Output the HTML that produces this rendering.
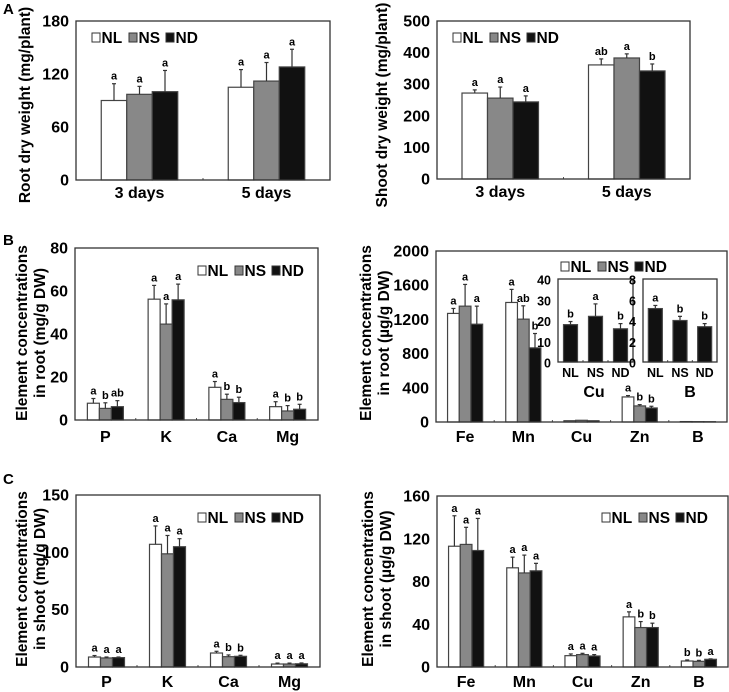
<!DOCTYPE html>
<html><head><meta charset="utf-8"><style>
html,body{margin:0;padding:0;background:#fff;}
svg{display:block;font-family:"Liberation Sans",Arial,sans-serif;font-weight:bold;}
</style></head><body>
<svg id="fig" width="729" height="692" viewBox="0 0 729 692">
<text x="3" y="14" font-size="15">A</text>
<text x="3" y="245" font-size="15">B</text>
<text x="3" y="484" font-size="15">C</text>
</svg>
<script>
// ---- Data ----
const seriesNames = ["NL","NS","ND"];
const fills = ["#ffffff","#888888","#111111"];

// A left: root dry weight
const aCats = ["3 days","5 days"];
const aRootTicks = [0,60,120,180];
const aRootNL = [90,105], aRootNS = [97,112], aRootND = [100,128];
const aRootErrNL = [19,20], aRootErrNS = [9,21], aRootErrND = [24,20];
const aRootLet = [["a","a","a"],["a","a","a"]];

// A right: shoot dry weight
const aShootTicks = [0,100,200,300,400,500];
const aShootNL = [272,361], aShootNS = [256,383], aShootND = [244,342];
const aShootErrNL = [10,19], aShootErrNS = [35,13], aShootErrND = [19,22];
const aShootLet = [["a","a","a"],["ab","a","b"]];

// B left: macro in root
const macroCats = ["P","K","Ca","Mg"];
const bMacTicks = [0,20,40,60,80];
const bMacNL = [7.8,56.2,15.2,6.2], bMacNS = [5.4,44.6,9.6,4.2], bMacND = [6.2,55.9,8.1,5.0];
const bMacErrNL = [2.2,6.4,2.7,2.3], bMacErrNS = [2.6,9.4,2.4,2.5], bMacErrND = [2.8,7.3,2.5,2.3];
const bMacLet = [["a","b","ab"],["a","a","a"],["a","b","b"],["a","b","b"]];

// B right: micro in root
const microCats = ["Fe","Mn","Cu","Zn","B"];
const bMicTicks = [0,400,800,1200,1600,2000];
const bMicNL = [1270,1398,15,293,5], bMicNS = [1355,1203,20,188,4], bMicND = [1144,867,15,164,3.5];
const bMicErrNL = [58,153,0,16,0], bMicErrNS = [254,156,0,15,0], bMicErrND = [211,168,0,20,0];
const bMicLet = [["a","a","a"],["a","ab","b"],["","",""],["a","b","b"],["","",""]];

// B insets
const insetCats = ["NL","NS","ND"];
const cuTicks = [0,10,20,30,40];
const cuVals = [18,22,16], cuErr = [1.5,6,2.5], cuLet = ["b","a","b"];
const bTicks = [0,2,4,6,8];
const bVals = [5.15,4.0,3.4], bErr = [0.3,0.4,0.3], bLet = ["a","b","b"];

// C left: macro in shoot
const cMacTicks = [0,50,100,150];
const cMacNL = [8.7,107,12.2,2.6], cMacNS = [7.9,98.7,9,2.6], cMacND = [8.2,104.9,9.3,2.8];
const cMacErrNL = [1.3,16,1.5,0.8], cMacErrNS = [0.8,16,1.5,0.8], cMacErrND = [0.5,7,0.9,0.7];
const cMacLet = [["a","a","a"],["a","a","a"],["a","b","b"],["a","a","a"]];

// C right: micro in shoot
const cMicTicks = [0,40,80,120,160];
const cMicNL = [113,92.8,10.6,46.9,5.6], cMicNS = [114.7,88,11.6,36.9,5.3], cMicND = [109,90,10.3,36.9,7.2];
const cMicErrNL = [28.5,10,1.6,4.7,1.0], cMicErrNS = [16,16.7,1.2,5.6,0.9], cMicErrND = [30,7,1.3,4.1,0.4];
const cMicLet = [["a","a","a"],["a","a","a"],["a","a","a"],["a","b","b"],["b","b","a"]];

// ---- Drawing ----
const NS = "http://www.w3.org/2000/svg";
const svg = document.getElementById("fig");
function mk(tag, attrs, parent){
  const e = document.createElementNS(NS, tag);
  for (const k in attrs) e.setAttribute(k, attrs[k]);
  (parent||svg).appendChild(e);
  return e;
}
function txt(x,y,s,size,anchor,parent){
  const t = mk("text",{x:x,y:y,"font-size":size,"text-anchor":anchor||"middle"},parent);
  t.textContent = s;
  return t;
}
function legend(x,y,name){
  const g = mk("g",{});
  
  
  for (let k=0;k<3;k++){
    const sx = x + k*37;
    const r = mk("rect",{x:sx,y:y-4,width:8,height:9,fill:fills[k],stroke:"#333","stroke-width":1},g);
    
    
    const t = txt(sx+9.5,y+6,seriesNames[k],15.5,"start",g);
    
    
  }
}
function yTitle(cx,cy,lines,name){
  const g = mk("g",{});
  
  
  lines.forEach((l,i)=>{
    const x = cx + i*18;
    txt(x,cy,l,15.5,"middle",g).setAttribute("transform","rotate(-90 "+x+" "+(cy-5)+")");
  });
}
function chart(c){
  const g = mk("g",{});
  
  
  const max = c.ticks[c.ticks.length-1];
  const Y = v => c.y1 - v*(c.y1-c.y0)/max;
  const slot = (c.x1-c.x0)/c.cats.length;
  const X = i => c.x0 + slot*(i+0.5);
  c.ticks.forEach(t=>{
    const lab = txt(c.x0-7, Y(t)+5.5, String(t), c.tickSize||16, "end", g);
    
    
  });
  for (let i=1;i<c.cats.length;i++){
    const xx = c.x0+slot*i;
    mk("line",{x1:xx,x2:xx,y1:c.y1,y2:c.y1-2,stroke:"#555","stroke-width":1},g);
  }
  const ns = c.series.length;
  c.cats.forEach((cat,i)=>{
    const lab = txt(X(i), c.y1+(c.catDy||18), cat, c.catSize||16, "middle", g);
    
    
    for (let s=0;s<ns;s++){
      const v = c.series[s][i], e = c.errs[s][i];
      const bx = X(i) + (s - (ns-1)/2)*c.bw - c.bw/2;
      const fill = c.fillsOverride ? c.fillsOverride[s] : fills[s];
      const r = mk("rect",{x:bx,y:Y(v),width:c.bw,height:c.y1-Y(v),fill:fill,stroke:"#444","stroke-width":1.2},g);
      
      
      const cx = bx + c.bw/2;
      if (e>0){
        mk("line",{x1:cx,x2:cx,y1:Y(v),y2:Y(v+e),stroke:"#333","stroke-width":1.2},g);
        mk("line",{x1:cx-2,x2:cx+2,y1:Y(v+e),y2:Y(v+e),stroke:"#333","stroke-width":1.2},g);
      }
      const L = c.letters[i][s];
      if (L){
        const lt = txt(cx, Y(v+e)-4, L, c.letSize||11, "middle", g);
        
        
      }
    }
  });
  mk("rect",{x:c.x0,y:c.y0,width:c.x1-c.x0,height:c.y1-c.y0,fill:"none",stroke:"#333","stroke-width":1.3},g);
}

chart({name:"root-dry-weight-chart",x0:76,x1:330,y0:21,y1:180,ticks:aRootTicks,cats:aCats,
  series:[aRootNL,aRootNS,aRootND],errs:[aRootErrNL,aRootErrNS,aRootErrND],letters:aRootLet,bw:25.5,catDy:18});
chart({name:"shoot-dry-weight-chart",x0:437,x1:690,y0:21,y1:179,ticks:aShootTicks,cats:aCats,
  series:[aShootNL,aShootNS,aShootND],errs:[aShootErrNL,aShootErrNS,aShootErrND],letters:aShootLet,bw:25.5,catDy:18});
chart({name:"root-macro-chart",x0:75,x1:318,y0:248,y1:420,ticks:bMacTicks,cats:macroCats,
  series:[bMacNL,bMacNS,bMacND],errs:[bMacErrNL,bMacErrNS,bMacErrND],letters:bMacLet,bw:12,catDy:22});
chart({name:"root-micro-chart",x0:436,x1:727,y0:251,y1:422,ticks:bMicTicks,cats:microCats,
  series:[bMicNL,bMicNS,bMicND],errs:[bMicErrNL,bMicErrNS,bMicErrND],letters:bMicLet,bw:11.7,catDy:20});
chart({name:"cu-inset-chart",x0:558,x1:633,y0:279,y1:362,ticks:cuTicks,cats:insetCats,
  series:[cuVals],errs:[cuErr],letters:cuLet.map(l=>[l]),bw:14,fillsOverride:["#111"],tickSize:12.5,catSize:12.5,catDy:15,letSize:11});
chart({name:"b-inset-chart",x0:643,x1:717,y0:279,y1:362,ticks:bTicks,cats:insetCats,
  series:[bVals],errs:[bErr],letters:bLet.map(l=>[l]),bw:14,fillsOverride:["#111"],tickSize:12.5,catSize:12.5,catDy:15,letSize:11});
chart({name:"shoot-macro-chart",x0:76,x1:320,y0:495,y1:667,ticks:cMacTicks,cats:macroCats,
  series:[cMacNL,cMacNS,cMacND],errs:[cMacErrNL,cMacErrNS,cMacErrND],letters:cMacLet,bw:12,catDy:20});
chart({name:"shoot-micro-chart",x0:437,x1:728,y0:496,y1:667,ticks:cMicTicks,cats:microCats,
  series:[cMicNL,cMicNS,cMicND],errs:[cMicErrNL,cMicErrNS,cMicErrND],letters:cMicLet,bw:11.7,catDy:20});

const cuLab = txt(594,397,"Cu",16,"middle");  
const bLab = txt(690,397,"B",16,"middle");  

legend(92,37,"legend-a-root");
legend(453,37,"legend-a-shoot");
legend(198,270,"legend-b-root-macro");
legend(561,266,"legend-b-root-micro");
legend(198,517,"legend-c-shoot-macro");
legend(602,517,"legend-c-shoot-micro");

yTitle(25,110,["Root dry weight (mg/plant)"],"y-axis-title-root-dry-weight");
yTitle(382,110,["Shoot dry weight (mg/plant)"],"y-axis-title-shoot-dry-weight");
yTitle(22,338,["Element concentrations","in root (mg/g DW)"],"y-axis-title-root-macro");
yTitle(366,338,["Element concentrations","in root (\u00b5g/g DW)"],"y-axis-title-root-micro");
yTitle(22,584,["Element concentrations","in shoot (mg/g DW)"],"y-axis-title-shoot-macro");
yTitle(368,584,["Element concentrations","in shoot (\u00b5g/g DW)"],"y-axis-title-shoot-micro");
</script>
</body></html>
